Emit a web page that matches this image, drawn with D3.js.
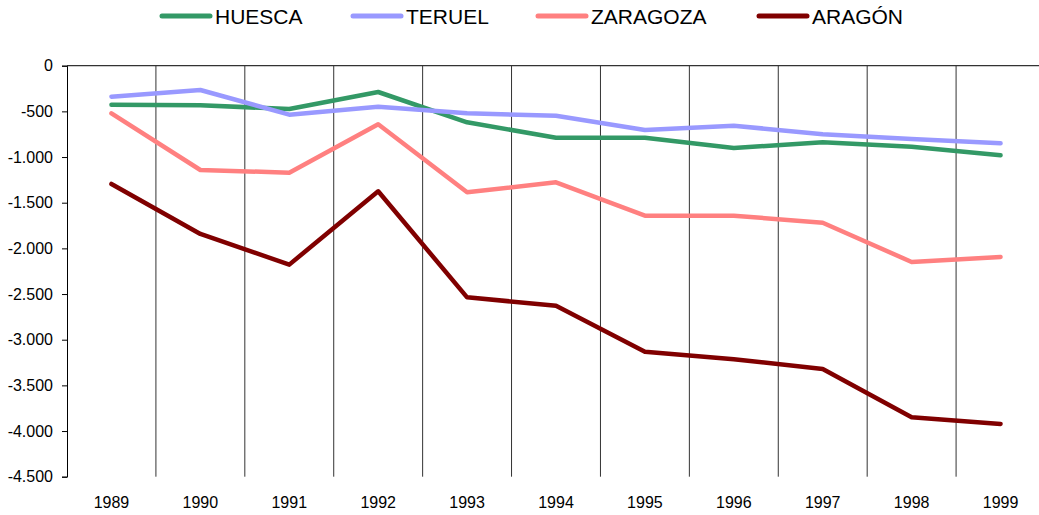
<!DOCTYPE html>
<html>
<head>
<meta charset="utf-8">
<script src="https://cdn.jsdelivr.net/npm/d3@7"></script>
<style>
  html, body { margin: 0; padding: 0; background: #fff; }
  svg { display: block; font-family: Arial, "Liberation Sans", sans-serif; }
</style>
</head>
<body>
<svg id="chart" width="1039" height="515"></svg>
<script>
// ── Data ──
const years = ["1989", "1990", "1991", "1992", "1993", "1994", "1995", "1996", "1997", "1998", "1999"];

const huesca   = [-427, -434, -474, -288, -620, -788, -788, -901, -839, -887, -981];
const teruel   = [-339, -266, -536, -449, -521, -547, -704, -657, -751, -803, -850];
const zaragoza = [-521, -1142, -1171, -642, -1386, -1277, -1642, -1642, -1719, -2149, -2094];
const aragon   = [-1295, -1842, -2178, -1375, -2536, -2628, -3131, -3214, -3320, -3849, -3922];

const seriesNames = ["HUESCA", "TERUEL", "ZARAGOZA", "ARAGÓN"];
const yTicks = [0, -500, -1000, -1500, -2000, -2500, -3000, -3500, -4000, -4500];

// ── Look ──
const colors = ["#339966", "#9999ff", "#ff8080", "#800000"];
const legendX = [162, 353, 538, 759];   // start of each legend swatch

const svg = d3.select("#chart");

const x = d3.scaleBand()
    .domain(years)
    .range([67, 1045])
    .paddingInner(0)
    .paddingOuter(0);

const y = d3.scaleLinear()
    .domain([0, -4500])
    .range([65.7, 476.7]);

// Spanish style: "." thousands, plain hyphen for minus
const esLocale = d3.formatLocale({
    decimal: ",",
    thousands: ".",
    grouping: [3],
    currency: ["", " €"],
    minus: "-"
});
const fmt = esLocale.format(",");

// ── Vertical separators between categories ──
svg.append("g")
    .selectAll("line")
    .data(years.slice(1))
    .join("line")
    .attr("x1", d => x(d))
    .attr("x2", d => x(d))
    .attr("y1", y(0))
    .attr("y2", y(-4500))
    .style("stroke", "#333")
    .style("stroke-width", 1);

// ── Zero line (category axis crosses at 0) ──
svg.append("line")
    .attr("x1", 67).attr("x2", 1045)
    .attr("y1", y(0)).attr("y2", y(0))
    .style("stroke", "#333")
    .style("stroke-width", 1.2);

// ── Value axis ──
const yAxis = svg.append("g")
    .attr("transform", "translate(67,0)")
    .call(d3.axisLeft(y).tickValues(yTicks).tickFormat(fmt).tickSize(5).tickPadding(9));
yAxis.select(".domain").style("stroke", "#000");
yAxis.selectAll(".tick line").style("stroke", "#000");
yAxis.selectAll(".tick text")
    .style("font-size", "16px")
    .style("fill", "#000")
    .style("font-family", "Arial, 'Liberation Sans', sans-serif");

// ── Year labels ──
svg.append("g")
    .selectAll("text")
    .data(years)
    .join("text")
    .attr("x", d => x(d) + x.bandwidth() / 2)
    .attr("y", 508)
    .attr("text-anchor", "middle")
    .style("font-size", "16px")
    .style("fill", "#000")
    .text(d => d);

// ── Series lines ──
const allSeries = [huesca, teruel, zaragoza, aragon];
const line = d3.line()
    .x((d, i) => x(years[i]) + x.bandwidth() / 2)
    .y(d => y(d));

svg.append("g")
    .selectAll("path")
    .data(allSeries)
    .join("path")
    .attr("d", line)
    .style("fill", "none")
    .style("stroke", (d, i) => colors[i])
    .style("stroke-width", 4.5)
    .style("stroke-linejoin", "round")
    .style("stroke-linecap", "round");

// ── Legend ──
const legend = svg.append("g")
    .selectAll("g")
    .data(seriesNames)
    .join("g")
    .attr("transform", (d, i) => `translate(${legendX[i]},16)`);

legend.append("line")
    .attr("x1", 0).attr("x2", 48)
    .attr("y1", 0).attr("y2", 0)
    .style("stroke", (d, i) => colors[i])
    .style("stroke-width", 5)
    .style("stroke-linecap", "round");

legend.append("text")
    .attr("x", 53)
    .attr("y", 8)
    .style("font-size", "21px")
    .style("fill", "#000")
    .text(d => d);
</script>
</body>
</html>
